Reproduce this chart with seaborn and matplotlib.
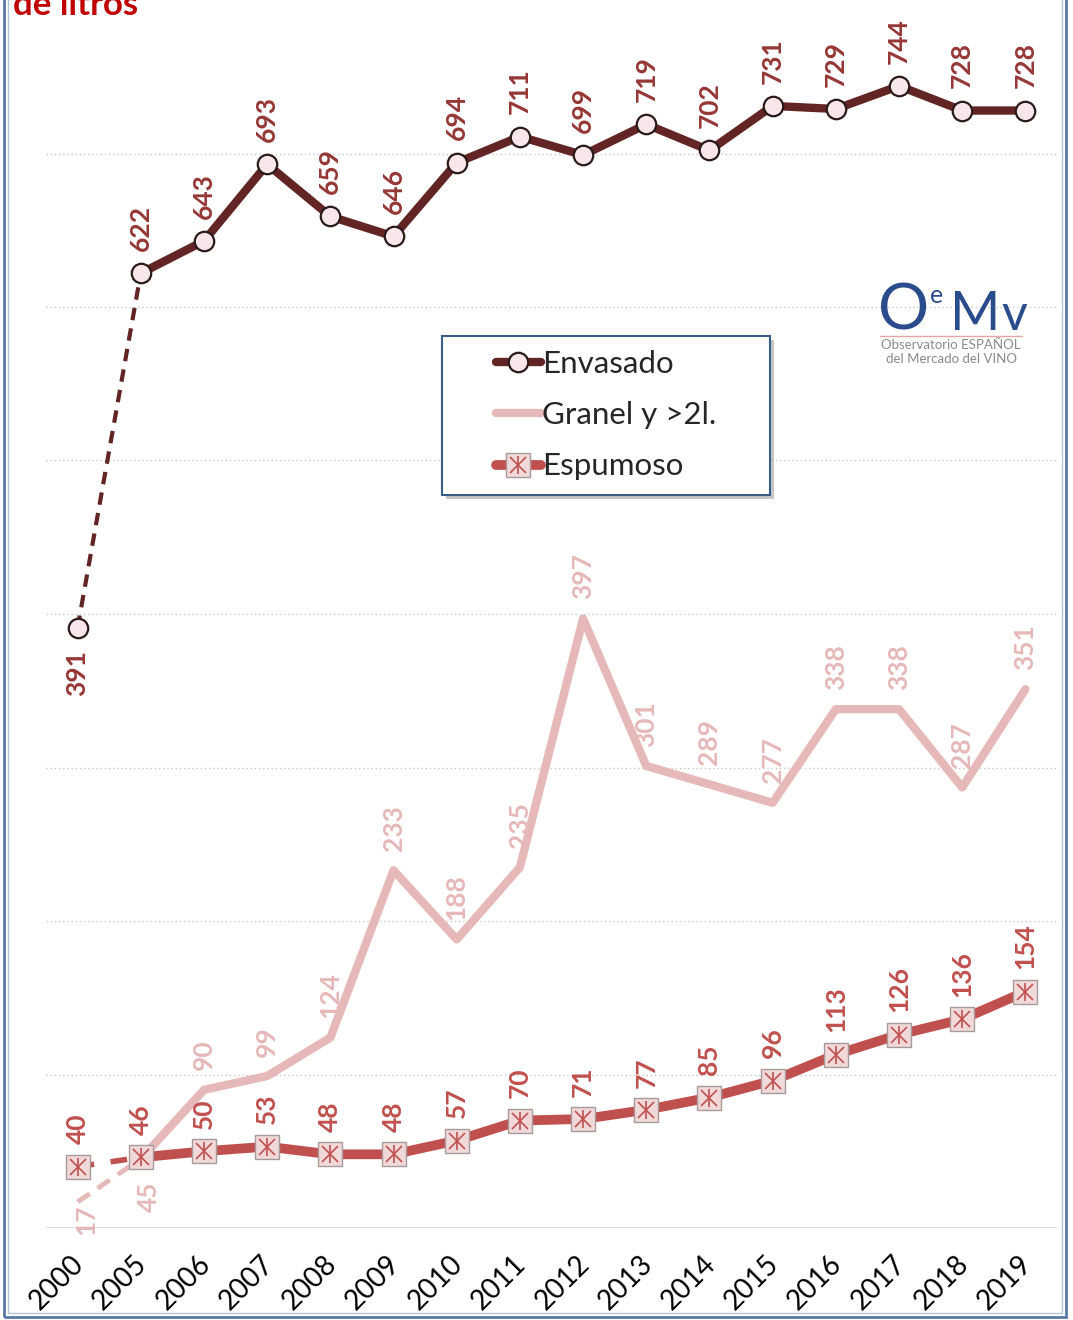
import numpy as np
import pandas as pd
import matplotlib.pyplot as plt
import matplotlib.transforms as mtransforms
import seaborn as sns
from matplotlib.lines import Line2D
from matplotlib.patches import Rectangle
from matplotlib.legend_handler import HandlerTuple

years = ['2000', '2005', '2006', '2007', '2008', '2009', '2010', '2011',
         '2012', '2013', '2014', '2015', '2016', '2017', '2018', '2019']
envasado = [391, 622, 643, 693, 659, 646, 694, 711, 699, 719, 702, 731, 729, 744, 728, 728]
granel = [17, 45, 90, 99, 124, 233, 188, 235, 397, 301, 289, 277, 338, 338, 287, 351]
espumoso = [40, 46, 50, 53, 48, 48, 57, 70, 71, 77, 85, 96, 113, 126, 136, 154]

c_env, c_env_lab = '#632523', '#953735'
c_gra = '#E6B9B8'
c_esp = '#C0504D'

sns.set_theme(style='white')
plt.rcParams['font.family'] = ['Lato', 'DejaVu Sans']

df = pd.DataFrame({'pos': np.arange(len(years)), 'year': years,
                   'Envasado': envasado, 'Granel': granel, 'Espumoso': espumoso})
first = df.iloc[:2]
rest = df.iloc[1:]

W, H = 1073, 1320
fig = plt.figure(figsize=(W / 100, H / 100), dpi=100)
ax = fig.add_axes([46 / W, 1 - 1228 / H, (1057 - 46) / W, 1228 / H])

# grid
for v in range(100, 800, 100):
    ax.axhline(v, color='#C8C8C8', lw=1, ls=(0, (1, 2)), zorder=0)
ax.axhline(0, color='#D9D9D9', lw=2, zorder=0)

# Granel
sns.lineplot(data=first, x='pos', y='Granel', color=c_gra, lw=3.5, ls=(0, (3, 2)), ax=ax)
sns.lineplot(data=rest, x='pos', y='Granel', color=c_gra, lw=6, ax=ax)

# Espumoso
sns.lineplot(data=first, x='pos', y='Espumoso', color=c_esp, lw=4, ls=(0, (3, 3)), ax=ax)
sns.lineplot(data=rest, x='pos', y='Espumoso', color=c_esp, lw=7, ax=ax)
sns.lineplot(data=df, x='pos', y='Espumoso', lw=0, marker='s', markersize=17,
             markerfacecolor='#F2D9D9', markeredgecolor='#A89A9A', mew=1, ax=ax)
sns.lineplot(data=df, x='pos', y='Espumoso', lw=0, marker='x', markersize=11,
             markeredgecolor=c_esp, mew=1.2, ax=ax)
sns.lineplot(data=df, x='pos', y='Espumoso', lw=0, marker='|', markersize=13,
             markeredgecolor=c_esp, mew=1.2, ax=ax)

# Envasado
sns.lineplot(data=first, x='pos', y='Envasado', color=c_env, lw=3, ls=(0, (3, 2)), ax=ax)
sns.lineplot(data=rest, x='pos', y='Envasado', color=c_env, lw=6, ax=ax)
sns.lineplot(data=df, x='pos', y='Envasado', lw=0, marker='o', markersize=14,
             markerfacecolor='#F8E6EA', markeredgecolor='#2B1A1A', mew=1.6, ax=ax)

# data labels
lab_kw = dict(textcoords='offset points', rotation=90, ha='center',
              fontsize=19, fontweight='bold')
for i, v in enumerate(envasado):
    below = i == 0
    ax.annotate(str(v), (i, v), xytext=(0, -16 if below else 16),
                va='top' if below else 'bottom', color=c_env_lab, **lab_kw)
for i, v in enumerate(granel):
    if i == 0:
        ax.annotate(str(v), (i, v), xytext=(6, -2), va='top', color=c_gra, **lab_kw)
    elif i == 1:
        ax.annotate(str(v), (i, v), xytext=(6, -16), va='top', color=c_gra, **lab_kw)
    else:
        ax.annotate(str(v), (i, v), xytext=(0, 14), va='bottom', color=c_gra, **lab_kw)
for i, v in enumerate(espumoso):
    ax.annotate(str(v), (i, v), xytext=(0, 16), va='bottom', color=c_esp, **lab_kw)

ax.set_xlim(-0.5, len(years) - 0.5)
ax.set_ylim(0, 800)
ax.set_xticks(df['pos'])
ax.set_xticklabels(years, rotation=45, ha='right', va='top', rotation_mode='anchor',
                   fontsize=20, color='black')
ax.tick_params(axis='x', length=0, pad=16)
shift = mtransforms.ScaledTranslation(-7 / 100, 0, fig.dpi_scale_trans)
for lbl in ax.get_xticklabels():
    lbl.set_transform(lbl.get_transform() + shift)
ax.set_yticks([])
ax.set_xlabel('')
ax.set_ylabel('')
for s in ax.spines.values():
    s.set_visible(False)
ax.patch.set_alpha(0)

# legend
h_env = Line2D([], [], color=c_env, lw=6, marker='o', markersize=14,
               markerfacecolor='#F8E6EA', markeredgecolor='#2B1A1A', mew=1.6)
h_gra = Line2D([], [], color=c_gra, lw=6)
h_esp = (Line2D([], [], color=c_esp, lw=7, marker='s', markersize=17,
                markerfacecolor='#F2D9D9', markeredgecolor='#A89A9A', mew=1),
         Line2D([], [], lw=0, marker='x', markersize=11, markeredgecolor=c_esp, mew=1.2),
         Line2D([], [], lw=0, marker='|', markersize=13, markeredgecolor=c_esp, mew=1.2))
fig.add_artist(Rectangle((446 / W, 1 - 499 / H), 328 / W, 159 / H, transform=fig.transFigure,
                         facecolor='#A0A0A0', edgecolor='none', alpha=0.6, zorder=3))
fig.add_artist(Rectangle((442 / W, 1 - 495 / H), 328 / W, 159 / H, transform=fig.transFigure,
                         facecolor='white', edgecolor='#385D8A', lw=1.5, zorder=4))
leg = fig.legend([h_env, h_gra, h_esp], ['Envasado', 'Granel y >2l.', 'Espumoso'],
                 loc='center left', bbox_to_anchor=(480 / W, 1 - 415 / H), frameon=False,
                 fontsize=22.5, handlelength=1.45, handletextpad=0.05, labelspacing=0.75,
                 borderpad=0, handler_map={tuple: HandlerTuple(ndivide=1)})
leg.set_zorder(5)

# title fragment (cut at top, as in the original)
fig.text(13 / W, 1 - 15 / H, 'de litros', fontsize=25, fontweight='bold',
         color='#C00000', ha='left', va='baseline')

# logo
lc = '#2B4C8C'
fig.text(878 / W, 1 - 330 / H, 'O', fontsize=46, color=lc, ha='left', va='baseline')
fig.text(930 / W, 1 - 303 / H, 'e', fontsize=18, color=lc, ha='left', va='baseline')
fig.text(950 / W, 1 - 330 / H, 'M', fontsize=39, color=lc, ha='left', va='baseline')
fig.text(1001 / W, 1 - 330 / H, 'v', fontsize=36, color=lc, ha='left', va='baseline')
fig.add_artist(Line2D([880 / W, 1022 / W], [1 - 336 / H, 1 - 336 / H],
                      transform=fig.transFigure, color='#E3A7A7', lw=1))
fig.text(951 / W, 1 - 349 / H, 'Observatorio ESPAÑOL', fontsize=9.5, color='#8A8A8A',
         ha='center', va='baseline')
fig.text(951 / W, 1 - 363 / H, 'del Mercado del VINO', fontsize=9.5, color='#8A8A8A',
         ha='center', va='baseline')

# outer frame
fig.add_artist(Rectangle((4 / W, 3 / H), 1062 / W, 1.2, transform=fig.transFigure,
                         facecolor='none', edgecolor='#5A78A6', lw=2))
fig.add_artist(Rectangle((8 / W, 7 / H), 1054 / W, 1.2, transform=fig.transFigure,
                         facecolor='none', edgecolor='#B4C2D8', lw=1))

fig.savefig('out.png', dpi=100)
